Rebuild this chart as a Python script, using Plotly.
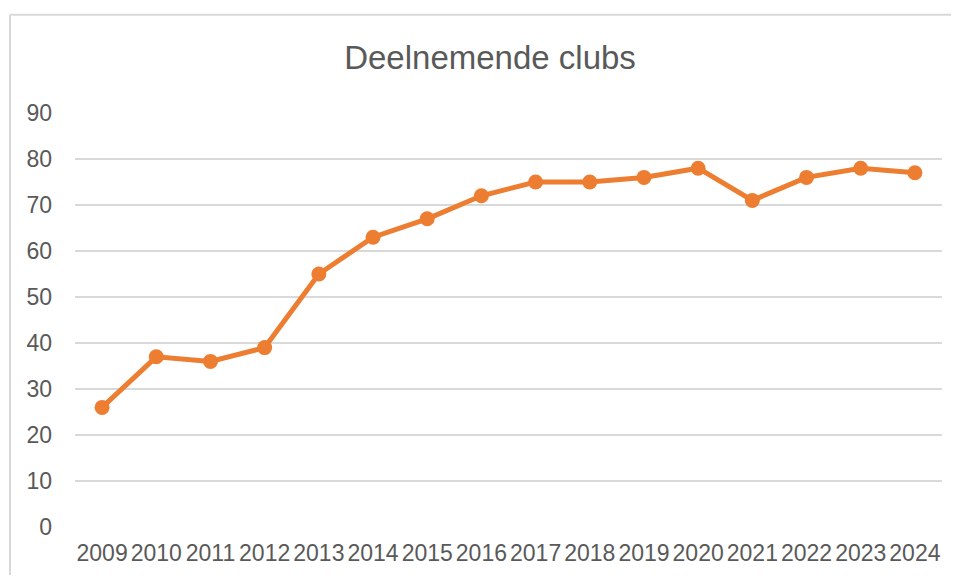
import plotly.graph_objects as go

years = [str(y) for y in range(2009, 2025)]
clubs = [26, 37, 36, 39, 55, 63, 67, 72, 75, 75, 76, 78, 71, 76, 78, 77]
y_ticks = list(range(0, 100, 10))

# the page body has an 8px margin on every side; keep the figure inside the window
OFF = 8
W, H = 959 - 2 * OFF, 583 - 2 * OFF
ML, MT = 75 - OFF, 113 - OFF
MR = W - (942 - OFF)
MB = H - (530 - OFF)

fig = go.Figure()
fig.add_trace(go.Scatter(
    x=years, y=clubs,
    mode='lines+markers',
    line=dict(color='#ED7D31', width=5),
    marker=dict(color='#ED7D31', size=15),
    hoverinfo='skip',
    showlegend=False
))

# chart-area border (Excel style): only top and left edges are in view
pw = W - ML - MR
ph = H - MT - MB
bx0 = (2 - ML) / pw
bx1 = (W + 20 - ML) / pw
by0 = (H - MB - 620) / ph
by1 = (H - MB - 6) / ph
fig.add_shape(type='line', xref='paper', yref='paper',
              x0=bx0, x1=bx1, y0=by1, y1=by1,
              line=dict(color='#D9D9D9', width=2), layer='below')
fig.add_shape(type='line', xref='paper', yref='paper',
              x0=bx0, x1=bx0, y0=by0, y1=by1,
              line=dict(color='#D9D9D9', width=2), layer='below')

fig.update_layout(
    width=W, height=H,
    margin=dict(l=ML, r=MR, t=MT, b=MB),
    paper_bgcolor='white', plot_bgcolor='white',
    font=dict(family='Liberation Sans, Arial, sans-serif', color='#595959'),
    title=dict(
        text='Deelnemende clubs',
        x=482 / W, xanchor='center', xref='container',
        y=1 - 49 / H, yanchor='middle', yref='container',
        font=dict(size=33, color='#595959', family='Liberation Sans, Arial, sans-serif')
    ),
    xaxis=dict(
        type='category',
        showgrid=False, showline=False, zeroline=False,
        ticks='', tickfont=dict(size=23, color='#595959'),
        ticklabelstandoff=10,
        range=[-0.5, len(years) - 0.5],
        fixedrange=True
    ),
    yaxis=dict(
        range=[0, 90],
        tickvals=y_ticks,
        showgrid=True, gridcolor='#D9D9D9', gridwidth=2,
        zeroline=False, showline=False,
        ticks='', ticklabelstandoff=22,
        tickfont=dict(size=23, color='#595959'),
        fixedrange=True
    )
)

fig.write_html("out.html")
